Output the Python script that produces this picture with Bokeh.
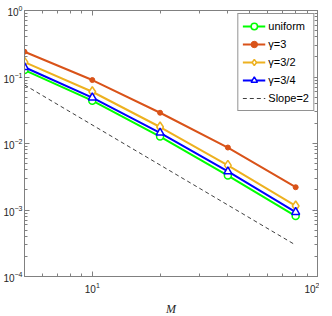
from bokeh.plotting import figure
from bokeh.models import LogAxis, FixedTicker, Range1d, Legend, CustomJSTickFormatter, LogTickFormatter
from bokeh.embed import file_html
from bokeh.resources import INLINE

M = [5, 10, 20, 40, 80]
uniform = [0.127, 0.044, 0.0127, 0.0033, 0.00081]
gamma3 = [0.24, 0.09, 0.029, 0.0087, 0.0022]
gamma32 = [0.167, 0.06, 0.0177, 0.0047, 0.00115]
gamma34 = [0.14, 0.049, 0.0145, 0.0038, 0.00093]
slope_x = [5, 80]
slope_y = [0.076, 0.076 * (5 / 80) ** 2]

x_major = [10, 100]
x_minor = [m * d for d in (1, 10) for m in range(2, 10)]
y_major = [1e-4, 1e-3, 1e-2, 1e-1, 1]
y_minor = [m * d for d in (1e-4, 1e-3, 1e-2, 1e-1) for m in range(2, 10)]

p = figure(frame_width=293, frame_height=266, x_axis_type="log", y_axis_type="log",
           x_range=Range1d(5, 100), y_range=Range1d(1e-4, 1),
           output_backend="svg", toolbar_location=None,
           min_border_left=0, min_border_right=2, min_border_top=10, min_border_bottom=0)
p.grid.visible = False
p.outline_line_color = "#808080"

def style_axis(ax, major, minor, labels=True):
    ax.ticker = FixedTicker(ticks=major, minor_ticks=minor)
    ax.axis_line_color = "#808080"
    ax.major_tick_line_color = "#808080"
    ax.minor_tick_line_color = "#808080"
    ax.major_tick_in = 5
    ax.major_tick_out = 0
    ax.minor_tick_in = 3
    ax.minor_tick_out = 0
    ax.major_label_text_font = "Liberation Sans"
    ax.major_label_text_font_size = "10px"
    ax.major_label_text_color = "#262626"
    ax.major_label_standoff = 3
    if labels:
        ax.formatter = LogTickFormatter()
    else:
        ax.formatter = CustomJSTickFormatter(code="return ''")
        ax.major_label_standoff = 0

for ax in p.xaxis:
    style_axis(ax, x_major, x_minor)
for ax in p.yaxis:
    style_axis(ax, y_major, y_minor)
p.yaxis.major_label_standoff = 2
p.xaxis.major_label_standoff = 5
p.xaxis.axis_label = "M"
p.xaxis.axis_label_text_font = "Liberation Serif"
p.xaxis.axis_label_text_font_style = "italic"
p.xaxis.axis_label_text_font_size = "12px"
p.xaxis.axis_label_text_color = "#262626"
p.xaxis.axis_label_standoff = 6

top = LogAxis()
style_axis(top, x_major, x_minor, labels=False)
p.add_layout(top, "above")
right = LogAxis()
style_axis(right, y_major, y_minor, labels=False)
p.add_layout(right, "right")

lw = 2
r1 = [p.line(M, uniform, line_color="#00FF00", line_width=lw),
      p.scatter(M, uniform, marker="circle", size=7, fill_color="white", line_color="#00FF00", line_width=1.5)]
r2 = [p.line(M, gamma3, line_color="#D95319", line_width=lw),
      p.scatter(M, gamma3, marker="circle", size=5, fill_color="#D95319", line_color="#D95319")]
r3 = [p.line(M, gamma32, line_color="#EDB120", line_width=lw),
      p.scatter(M, gamma32, marker="diamond", size=10, fill_color="white", line_color="#EDB120", line_width=1.5)]
r4 = [p.line(M, gamma34, line_color="#0000FF", line_width=lw),
      p.scatter(M, gamma34, marker="triangle", size=8, fill_color="white", line_color="#0000FF", line_width=1.5)]
r5 = [p.line(slope_x, slope_y, line_color="#404040", line_width=1, line_dash="4 3")]

legend = Legend(items=[("uniform", r1), ("γ=3", r2), ("γ=3/2", r3), ("γ=3/4", r4), ("Slope=2", r5)],
                location="top_right")
legend.label_text_font = "Liberation Sans"
legend.label_text_font_size = "11px"
legend.label_text_color = "#000000"
legend.border_line_color = "#262626"
legend.border_line_width = 1
legend.glyph_width = 23
legend.glyph_height = 16
legend.label_height = 16
legend.spacing = 2
legend.padding = 4
legend.margin = 3
legend.label_standoff = 3
p.add_layout(legend)

open("out.html", "w").write(file_html(p, INLINE))
